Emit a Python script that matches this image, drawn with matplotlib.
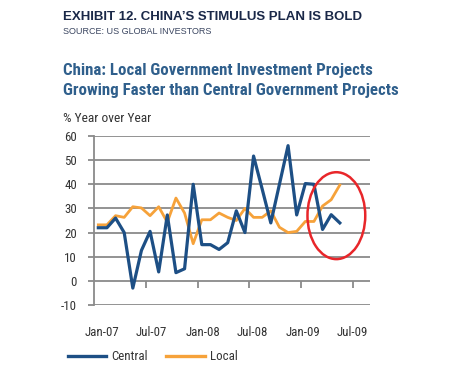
import matplotlib
matplotlib.use("Agg")
import matplotlib.pyplot as plt
from matplotlib import font_manager
from matplotlib.patches import Ellipse

def pick(cands):
    for c in cands:
        try:
            font_manager.findfont(font_manager.FontProperties(family=c), fallback_to_default=False)
            return c
        except Exception:
            pass
    return "DejaVu Sans"

COND = pick(["Liberation Sans Narrow", "DejaVu Sans Condensed", "Roboto Condensed", "Roboto"])
SANS = pick(["Liberation Sans", "Arial", "DejaVu Sans"])

# ---- data (monthly, Jan-07 .. May-09) ----
months = list(range(29))
central = [22, 22, 26, 20, -3, 12.6, 20.5, 3.7, 27.3, 3.4, 5, 40,
           15, 15, 13, 15.8, 29, 20, 51.7, 38, 24, 40, 56, 27.3,
           40.3, 40, 21.3, 27.4, 24]
local = [23.2, 23.2, 27, 26.3, 30.7, 30.2, 27, 30.7, 24.3, 34.3, 28.1, 15.4,
         25.3, 25.3, 28.1, 26.3, 25, 30, 26.3, 26.3, 29, 22.2, 20, 20.5,
         24.6, 24.6, 31, 33.6, 39.7]
tick_labels = ["Jan-07", "Jul-07", "Jan-08", "Jul-08", "Jan-09", "Jul-09"]
yticks = [-10, 0, 10, 20, 30, 40, 50, 60]
series_names = ["Central", "Local"]

# label / tick-mark placement (styling)
label_x = [0.4, 6.2, 12.1, 17.9, 23.7, 29.5]
mark_x = [5.5, 11.5, 17.5, 23.5, 29.5]

# highlight ellipse (data coords)
ell_center = (27.6, 27)
ell_w, ell_h = 6.7, 36

C_CENTRAL = "#1d4f85"
C_LOCAL = "#f6a23a"
GRID = "#8a8a8a"
TXT = "#333333"

fig = plt.figure(figsize=(4.5, 3.84), dpi=100)
ax = fig.add_axes([94/450, 1-305/384, (370-94)/450, (305-136)/384])

ax.set_xlim(-0.5, 31.5)
ax.set_ylim(-10, 60)
for y in yticks:
    ax.axhline(y, color=GRID, lw=1.3, zorder=1)

ax.plot(months, central, color=C_CENTRAL, lw=2.3, zorder=3, label=series_names[0])
ax.plot(months, local, color=C_LOCAL, lw=2.0, zorder=2, label=series_names[1])

ax.add_patch(Ellipse(ell_center, ell_w, ell_h, fill=False, edgecolor="#e8262a", lw=1.8, zorder=4))

for s in ["top", "right", "bottom"]:
    ax.spines[s].set_visible(False)
ax.spines["left"].set_color(GRID)
ax.spines["left"].set_linewidth(1.3)

ax.set_yticks(yticks)
ax.set_yticklabels([str(v) for v in yticks], fontfamily=COND, fontsize=9.3, color=TXT)
ax.tick_params(axis="y", length=4.3, width=1.3, color=GRID, pad=8)

ax.set_xticks(label_x)
ax.set_xticklabels(tick_labels, fontfamily=COND, fontsize=9.3, color=TXT)
ax.tick_params(axis="x", length=0, pad=15)

# tick marks on the zero line
sec = ax.secondary_xaxis(1/7)
sec.set_xticks(mark_x)
sec.set_xticklabels([])
sec.tick_params(length=5, width=1.3, color=GRID, direction="out")
sec.spines["bottom"].set_visible(False)

fig.text(63/450, 1-17/384, "EXHIBIT 12. CHINA\u2019S STIMULUS PLAN IS BOLD", fontfamily=SANS,
         fontweight="bold", fontsize=9.5, color="#1a2848", va="center", ha="left")
fig.text(63/450, 1-32/384, "SOURCE: US GLOBAL INVESTORS", fontfamily=SANS,
         fontsize=6.5, color="#3a4560", va="center", ha="left")
fig.text(63/450, 1-70/384, "China: Local Government Investment Projects", fontfamily=COND,
         fontweight="bold", fontsize=12.2, color="#2f5f8c", va="center", ha="left")
fig.text(63/450, 1-91/384, "Growing Faster than Central Government Projects", fontfamily=COND,
         fontweight="bold", fontsize=12.2, color="#2f5f8c", va="center", ha="left")
fig.text(63/450, 1-118/384, "% Year over Year", fontfamily=COND,
         fontsize=9.6, color=TXT, va="center", ha="left")

leg = fig.legend(handles=ax.get_lines()[-2:], labels=series_names, loc="center left",
                 bbox_to_anchor=(56/450, 1-357/384), ncol=2, frameon=False,
                 prop={"family": COND, "size": 9.3}, handlelength=3.0, columnspacing=1.4,
                 handletextpad=0.4)
for t in leg.get_texts():
    t.set_color(TXT)
for l in leg.get_lines():
    l.set_linewidth(2.4)

fig.savefig("out.png", dpi=100, facecolor="white")
